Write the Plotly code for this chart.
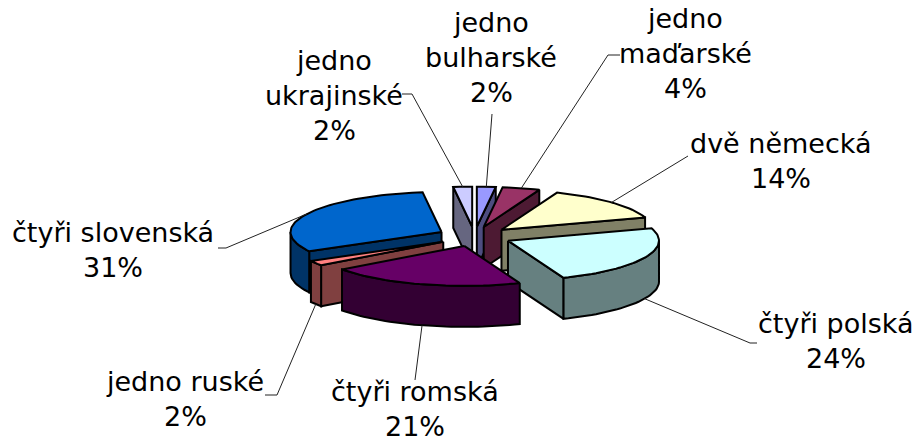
import math
import plotly.graph_objects as go

# --- data ---
names = ["jedno bulharské", "jedno maďarské", "dvě německá", "čtyři polská",
         "čtyři romská", "jedno ruské", "čtyři slovenská", "jedno ukrajinské"]
values = [2, 4, 14, 24, 21, 2, 31, 2]
top_colors = ["#9999FF", "#993366", "#FFFFCC", "#CCFFFF", "#660066", "#FF8080", "#0066CC", "#CCCCFF"]
side_colors = ["#4D4D80", "#4D1A33", "#808066", "#668080", "#330033", "#804040", "#003366", "#666680"]

# label layout: text lines centre x, first line y, and leader path after the slice rim
label_lines = [["jedno", "bulharské"], ["jedno", "maďarské"], ["dvě německá"], ["čtyři polská"],
               ["čtyři romská"], ["jedno ruské"], ["čtyři slovenská"], ["jedno", "ukrajinské"]]
label_x = [491, 685, 781, 836, 415, 185, 113, 334]
label_y = [22, 18, 143, 323, 391, 381, 232, 60]
leader_ends = [[(492, 114)], [(608, 55), (620, 55)], [(688, 156)], [(750, 343), (757, 343)],
               [(415, 380)], [(277, 395), (265, 395)], [(226, 248), (218, 248)], [(412, 94), (402, 94)]]
draw_order = [7, 0, 1, 2, 6, 5, 3, 4]

# --- pie projection (pixel geometry) ---
CX, CY, RX, RY, DEPTH, EXPLODE = 474.5, 236.5, 151, 40, 41, 37
LINE_H = 35


def proj(cx, cy, a, r=1.0):
    t = math.radians(a)
    return cx + RX * r * math.sin(t), cy - RY * r * math.cos(t)


def arc(cx, cy, a0, a1):
    n = max(2, int(abs(a1 - a0) / 2))
    return [proj(cx, cy, a0 + (a1 - a0) * i / n) for i in range(n + 1)]


def poly(fig, pts, fill):
    fig.add_trace(go.Scatter(x=[p[0] for p in pts] + [pts[0][0]], y=[p[1] for p in pts] + [pts[0][1]],
                             mode="lines", fill="toself", fillcolor=fill,
                             line=dict(color="black", width=2), hoverinfo="skip", showlegend=False))


total = sum(values)
starts = []
acc = 0
for v in values:
    starts.append(acc / total * 360)
    acc += v

fig = go.Figure()
centres = []
for i, v in enumerate(values):
    a0, a1 = starts[i], starts[i] + v / total * 360
    mid = (a0 + a1) / 2
    t = math.radians(mid)
    centres.append((CX + EXPLODE * math.sin(t), CY - EXPLODE * RY / RX * math.cos(t)))

for i in draw_order:
    a0, a1 = starts[i], starts[i] + values[i] / total * 360
    cx, cy = centres[i]
    if a0 > 180:
        p = proj(cx, cy, a0)
        poly(fig, [(cx, cy), p, (p[0], p[1] + DEPTH), (cx, cy + DEPTH)], side_colors[i])
    if a1 < 180:
        p = proj(cx, cy, a1)
        poly(fig, [(cx, cy), p, (p[0], p[1] + DEPTH), (cx, cy + DEPTH)], side_colors[i])
    w0, w1 = max(a0, 90), min(a1, 270)
    if w1 > w0:
        rim = arc(cx, cy, w0, w1)
        poly(fig, rim + [(x, y + DEPTH) for x, y in reversed(rim)], side_colors[i])
    poly(fig, [(cx, cy)] + arc(cx, cy, a0, a1), top_colors[i])

annotations = []
for i, v in enumerate(values):
    a0, a1 = starts[i], starts[i] + v / total * 360
    mid = (a0 + a1) / 2
    sx, sy = proj(*centres[i], mid)
    if 90 < mid < 270:
        sy += DEPTH
    path = [(sx, sy)] + leader_ends[i]
    fig.add_trace(go.Scatter(x=[p[0] for p in path], y=[p[1] for p in path], mode="lines",
                             line=dict(color="#222222", width=1), hoverinfo="skip", showlegend=False))
    lines = label_lines[i] + [f"{round(v / total * 100)}%"]
    for k, s in enumerate(lines):
        annotations.append(dict(x=label_x[i], y=label_y[i] + k * LINE_H, text=s, xref="x", yref="y",
                                showarrow=False, xanchor="center", yanchor="middle",
                                font=dict(family="DejaVu Sans", size=27, color="black")))

fig.update_layout(width=917, height=443, margin=dict(l=0, r=0, t=0, b=0),
                  paper_bgcolor="white", plot_bgcolor="white", annotations=annotations,
                  xaxis=dict(range=[0, 917], visible=False, fixedrange=True),
                  yaxis=dict(range=[443, 0], visible=False, fixedrange=True))
fig.write_html("out.html", config={"displayModeBar": False},
               post_script="document.body.style.margin='0';document.documentElement.style.overflow='hidden';")
